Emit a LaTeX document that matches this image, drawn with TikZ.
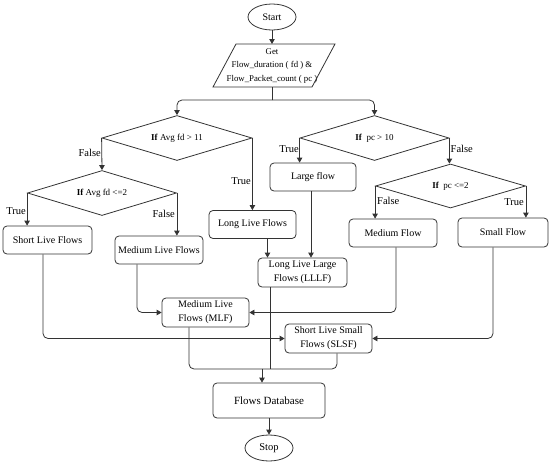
\documentclass[tikz,border=0pt]{standalone}
\usepackage{fontspec}
\setmainfont{Liberation Serif}
\usetikzlibrary{shapes.geometric,arrows.meta}
\definecolor{ln}{HTML}{333333}
\tikzset{
  every node/.style={text=black},
  base/.style={draw=ln, line width=0.8pt},
  box/.style={base, rounded corners=4pt, align=center, inner sep=1pt, font=\fontsize{10}{14}\selectfont},
  dec/.style={base, diamond, inner sep=0pt, aspect=3.3, font=\fontsize{9}{11}\selectfont},
  term/.style={base, ellipse, inner sep=0pt},
  lbl/.style={font=\fontsize{10.5}{12}\selectfont, inner sep=1pt},
  arr/.style={draw=ln, line width=0.8pt, -{Triangle[length=5pt,width=5.5pt]}},
  con/.style={draw=ln, line width=0.8pt},
}
\begin{document}
\begin{tikzpicture}[x=1pt,y=-1pt]
\useasboundingbox (0,0) rectangle (550,464);
% terminals
\node[term, minimum width=48pt, minimum height=26pt, font=\fontsize{10}{12}\selectfont] (start) at (272,17) {Start};
\node[align=center, inner sep=0pt, font=\fontsize{8.8}{13.5}\selectfont, minimum height=43pt] (get) at (272,66) {Get\\Flow\_duration ( fd ) \&\\Flow\_Packet\_count ( pc )};
\draw[base] (236,44) -- (335,44) -- (312,87) -- (213,87) -- cycle;
% decisions
\node[dec, minimum width=150pt, minimum height=45pt] (d1) at (177,138) {\textbf{If} Avg fd > 11};
\node[dec, minimum width=149pt, minimum height=45pt] (d2) at (102,193) {\textbf{If} Avg fd <=2};
\node[dec, minimum width=149pt, minimum height=45pt] (d3) at (374.5,138) {\textbf{If}\ \ pc > 10};
\node[dec, minimum width=150pt, minimum height=44pt] (d4) at (450.5,186) {\textbf{If}\ \ pc <=2};
% process boxes
\node[box, minimum width=89pt, minimum height=28pt] (slf) at (47.5,240) {Short Live Flows};
\node[box, minimum width=88pt, minimum height=28pt] (mlfb) at (159,250) {Medium Live Flows};
\node[box, minimum width=87pt, minimum height=28pt] (llf) at (252.5,224.5) {Long Live Flows};
\node[box, minimum width=86pt, minimum height=28pt] (large) at (313,177) {Large flow};
\node[box, minimum width=88pt, minimum height=28pt] (medf) at (393,233) {Medium Flow};
\node[box, minimum width=90pt, minimum height=29pt] (small) at (503,232.5) {Small Flow};
\node[box, minimum width=89pt, minimum height=29pt] (lllf) at (302.5,272.5) {Long Live Large\\Flows (LLLF)};
\node[box, minimum width=87pt, minimum height=29pt] (mlf) at (205.5,312.5) {Medium Live\\Flows (MLF)};
\node[box, minimum width=87pt, minimum height=29pt] (slsf) at (328.5,338.5) {Short Live Small\\Flows (SLSF)};
\node[box, minimum width=112pt, minimum height=35pt, font=\fontsize{11}{13}\selectfont] (db) at (269,400.5) {Flows Database};
\node[term, minimum width=48pt, minimum height=26pt, font=\fontsize{10.5}{12}\selectfont] (stop) at (269,448) {Stop};
% top connectors
\draw[arr] (start) -- (get.north |- 0,44);
\coordinate (j) at (272,100);
\draw[con] (272,87) -- (j);
\draw[arr, rounded corners=5pt] (j) -| (d1.north);
\draw[arr, rounded corners=5pt] (j) -| (d3.north);
% decision branches
\draw[arr] (d1.west) -- (d2.north);
\node[lbl, anchor=east] at (102,153) {False};
\draw[arr] (d2.west) -- (d2.west |- slf.north);
\node[lbl, anchor=east] at (27,211) {True};
\draw[arr] (d2.east) -- (d2.east |- mlfb.north);
\node[lbl, anchor=east] at (176,214) {False};
\draw[arr] (d1.east) -- (d1.east |- llf.north);
\node[lbl, anchor=east] at (252,181) {True};
\draw[arr] (d3.west) -- (d3.west |- large.north);
\node[lbl, anchor=east] at (300,149) {True};
\draw[arr] (d3.east) -- (d3.east |- d4.north);
\node[lbl, anchor=west] at (449.5,149) {False};
\draw[arr] (d4.west) -- (d4.west |- medf.north);
\node[lbl, anchor=west] at (376,201) {False};
\draw[arr] (d4.east) -- (d4.east |- small.north);
\node[lbl, anchor=east] at (525,202) {True};
% to combined nodes
\draw[arr] ([xshift=15pt]llf.south) -- ([xshift=15pt]llf.south |- lllf.north);
\draw[arr] ([xshift=-2pt]large.south) -- ([xshift=-2pt]large.south |- lllf.north);
\draw[arr, rounded corners=5pt] ([xshift=-22pt]mlfb.south) |- (mlf.west);
\draw[arr, rounded corners=5pt] ([xshift=3pt]medf.south) |- (mlf.east);
\draw[arr, rounded corners=5pt] ([xshift=-4.5pt]slf.south) |- (slsf.west);
\draw[arr, rounded corners=5pt] ([xshift=-10pt]small.south) |- (slsf.east);
% to database
\coordinate (jb) at (262,369);
\draw[con] ([xshift=-32.5pt]lllf.south) -- ([xshift=-32.5pt]lllf.south |- jb);
\draw[con, rounded corners=5pt] ([xshift=-16.5pt]mlf.south) |- (jb);
\draw[con, rounded corners=5pt] ([xshift=8.5pt]slsf.south) |- (jb);
\draw[arr] (jb) -- (jb |- db.north);
\draw[arr] (db.south) -- (stop.north);
\end{tikzpicture}
\end{document}
